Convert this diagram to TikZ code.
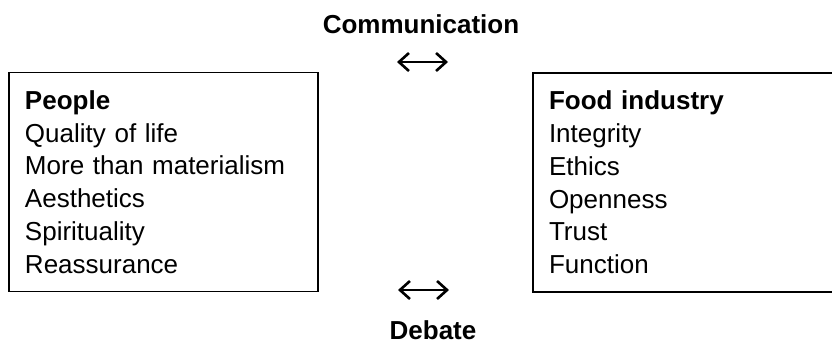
\documentclass[tikz,border=0pt]{standalone}
\usepackage{fontspec}
\setmainfont{Liberation Sans}
\usetikzlibrary{arrows.meta}

\begin{document}
\begin{tikzpicture}[x=1bp,y=-1bp,
  >={Straight Barb[length=10bp,width=18bp,line width=2.6bp]},
  every node/.style={font=\fontsize{26bp}{32.8bp}\selectfont},
  panel/.style={draw,line width=1.5bp,minimum height=219bp,inner xsep=16bp,align=left},
  heading/.style={font=\fontsize{26bp}{32.8bp}\selectfont\bfseries,inner sep=0pt},
  link/.style={<->,line width=1.2bp}]
%%
\useasboundingbox (0,0) rectangle (832,345);
\clip (0,0) rectangle (832,345);
%% the two sides
\node (people) at (163.5,182) [panel,minimum width=309bp,text width=277bp]
  {\textbf{People}\\Quality of life\\More than materialism\\Aesthetics\\Spirituality\\Reassurance};
\node (industry) at (688,182.5) [panel,minimum width=310bp,text width=278bp]
  {\textbf{Food industry}\\Integrity\\Ethics\\Openness\\Trust\\Function};
%% what passes between them
\node (communication) at (421,33) [heading,anchor=base] {Communication};
\node (debate) at (433,339) [heading,anchor=base] {Debate};
\coordinate (comm_l) at (397,62);
\coordinate (comm_r) at (448,62);
\coordinate (deb_l) at (398,290);
\coordinate (deb_r) at (449,290);
\draw [link] (comm_l) -- (comm_r);
\draw [link] (deb_l) -- (deb_r);
%
\end{tikzpicture}
\end{document}
